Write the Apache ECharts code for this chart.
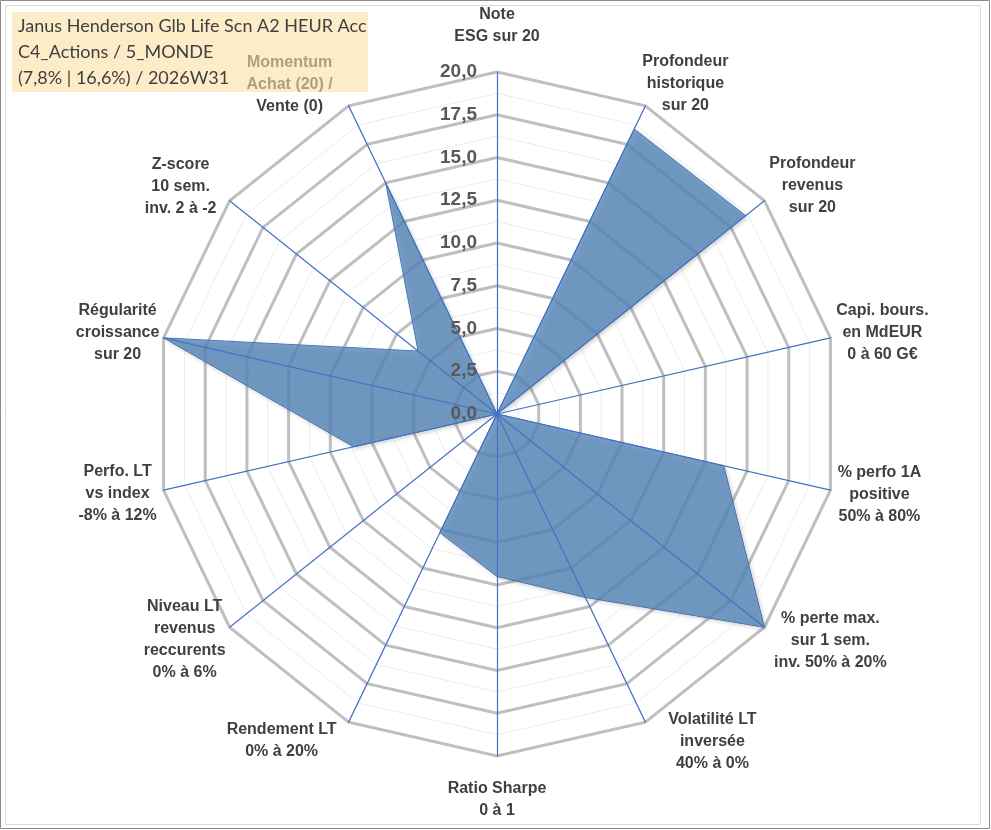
<!DOCTYPE html>
<html>
<head>
<meta charset="utf-8">
<script src="https://cdn.jsdelivr.net/npm/echarts@6/dist/echarts.min.js"></script>
<style>
  html, body { margin: 0; padding: 0; background: #fff; }
  #chart { width: 991px; height: 830px; }
</style>
</head>
<body>
<div id="chart"></div>
<script>
// axes in clockwise order, starting at the top
var axisNames = [
  'Note\nESG sur 20',
  'Profondeur\nhistorique\nsur 20',
  'Profondeur\nrevenus\nsur 20',
  'Capi. bours.\nen MdEUR\n0 à 60 G€',
  '% perfo 1A\npositive\n50% à 80%',
  '% perte max.\nsur 1 sem.\ninv. 50% à 20%',
  'Volatilité LT\ninversée\n40% à 0%',
  'Ratio Sharpe\n0 à 1',
  'Rendement LT\n0% à 20%',
  'Niveau LT\nrevenus\nreccurents\n0% à 6%',
  'Perfo. LT\nvs index\n-8% à 12%',
  'Régularité\ncroissance\nsur 20',
  'Z-score\n10 sem.\ninv. 2 à -2',
  'Momentum\nAchat (20) /\nVente (0)'
];
var scores = [0, 18.5, 18.6, 0, 13.6, 20, 11.9, 9.5, 7.7, 0, 8.6, 20, 5.9, 15];
var scaleMax = 20;
var titleLines = [
  'Janus Henderson Glb Life Scn A2 HEUR Acc',
  'C4_Actions / 5_MONDE',
  '(7,8% | 16,6%) / 2026W31'
];

// where each label block sits relative to the end of its axis (dx, dy)
var nameShift = [[0,-46],[40,-22],[48,-15],[52,-5],[49,4],[66,13],[67,19],
                 [0,44],[-67,18],[-45,12],[-46,3],[-46,-5],[-49,-14],[-59,-21]];

// echarts lays radar axes counter-clockwise: keep the first one, reverse the rest
var order = [0];
for (var k = axisNames.length - 1; k > 0; k--) order.push(k);

// gap along the axis gives the vertical part, side padding the rest
function nameLayout(k) {
  var a = k * 2 * Math.PI / axisNames.length;
  var s = Math.sin(a), c = Math.cos(a);
  var dx = nameShift[k][0], dy = nameShift[k][1];
  var gap = -dy / c;
  var rest = dx - gap * s;
  return { gap: gap, padding: [0, Math.max(0, -2 * rest), 0, Math.max(0, 2 * rest)] };
}

var nameIndicators = order.map(function (k) {
  var lay = nameLayout(k);
  return {
    name: axisNames[k], min: 0, max: scaleMax,
    nameGap: lay.gap, nameMoveOverlap: false,
    nameTextStyle: { padding: lay.padding }
  };
});
var plainIndicators = order.map(function () { return { name: '', min: 0, max: scaleMax }; });
// the scale is only written along the first (top) axis
var spokeIndicators = order.map(function (k, i) {
  var ind = { name: '', min: 0, max: scaleMax };
  if (i === 0) {
    ind.axisLabel = {
      show: true, fontWeight: 'bold', fontSize: 19, color: '#595959', margin: 20,
      fontFamily: 'Liberation Sans, Arial, sans-serif',
      formatter: function (v) { return v.toFixed(1).replace('.', ','); }
    };
  }
  return ind;
});

var center = ['497px', '414px'];
var radius = 342;

var chart = echarts.init(document.getElementById('chart'));
chart.setOption({
  animation: false,
  radar: [
    {
      // minor rings
      z: 0, center: center, radius: radius, startAngle: 90, shape: 'polygon',
      indicator: plainIndicators, splitNumber: 16,
      axisName: { show: false },
      axisLine: { show: false }, axisTick: { show: false }, axisLabel: { show: false },
      splitArea: { show: false },
      splitLine: { lineStyle: { color: '#ececec', width: 1 } }
    },
    {
      // major rings and axis names
      z: 1, center: center, radius: radius, startAngle: 90, shape: 'polygon',
      indicator: nameIndicators, splitNumber: 8, axisNameGap: 0,
      axisName: {
        color: '#404040', fontWeight: 'bold', fontSize: 16, lineHeight: 22,
        fontFamily: 'Liberation Sans, Arial, sans-serif',
        align: 'center', verticalAlign: 'middle'
      },
      axisLine: { show: false }, axisTick: { show: false }, axisLabel: { show: false },
      splitArea: { show: false },
      splitLine: { lineStyle: { color: '#bfbfbf', width: 3 } }
    },
    {
      // blue spokes and scale above the filled area
      z: 3, center: center, radius: radius, startAngle: 90, shape: 'polygon',
      indicator: spokeIndicators, splitNumber: 8,
      axisName: { show: false },
      axisLine: { lineStyle: { color: '#4472c4', width: 1.2 } },
      axisTick: { show: false }, axisLabel: { show: false },
      splitArea: { show: false }, splitLine: { show: false }
    }
  ],
  series: [{
    type: 'radar',
    radarIndex: 1,
    symbol: 'none',
    lineStyle: { color: '#4472c4', width: 1 },
    areaStyle: {
      color: '#5888ba', opacity: 0.8,
      shadowColor: 'rgba(0,0,0,0.25)', shadowBlur: 4, shadowOffsetX: 2, shadowOffsetY: 2
    },
    data: [{ value: order.map(function (k) { return scores[k]; }) }]
  }],
  graphic: [
    { type: 'rect', z: 0, silent: true, shape: { x: 0.5, y: 0.5, width: 989, height: 828 },
      style: { fill: null, stroke: '#8c8c8c', lineWidth: 1 } },
    { type: 'rect', z: 0, silent: true, shape: { x: 5.5, y: 5.5, width: 975, height: 819 },
      style: { fill: null, stroke: '#d9d9d9', lineWidth: 1 } },
    { type: 'rect', z: 100, silent: true, shape: { x: 12, y: 12, width: 356, height: 80 },
      style: { fill: 'rgba(252,223,163,0.6)' } }
  ].concat(titleLines.map(function (t, i) {
    return {
      type: 'text', z: 101, silent: true, left: 18, top: 17 + i * 26,
      style: { text: t, fill: '#404040', fontSize: 18, fontFamily: 'Lato, Open Sans, sans-serif' }
    };
  }))
});
</script>
</body>
</html>
